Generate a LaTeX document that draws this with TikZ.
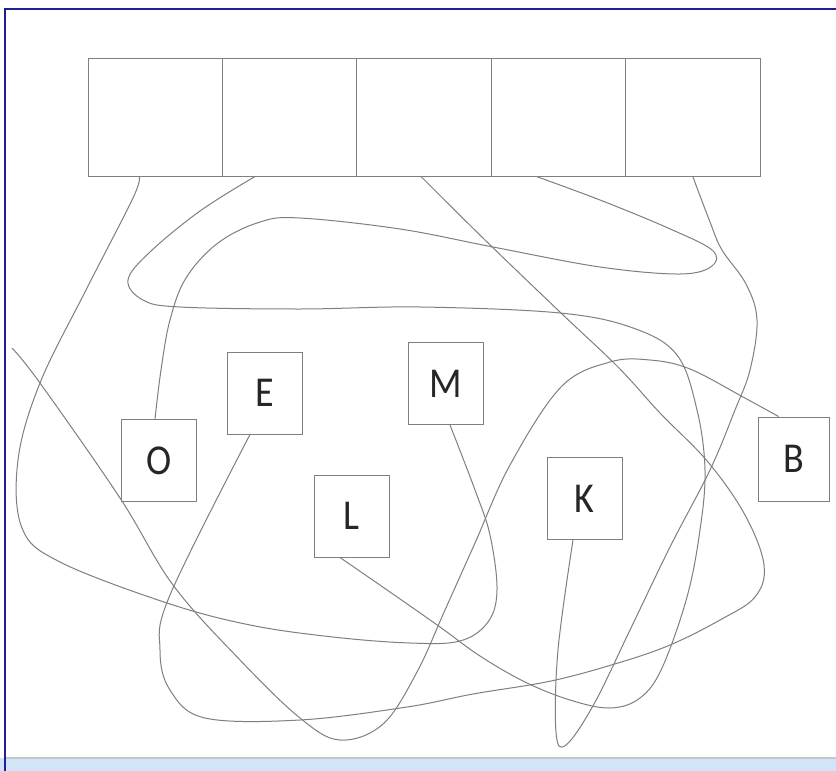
\documentclass[tikz,border=0pt]{standalone}
\usepackage{fontspec}
\setmainfont{Carlito}
\usepackage{graphicx}
\definecolor{ln}{HTML}{7F7F7F}
\definecolor{frameblue}{HTML}{1F1F99}
\definecolor{band}{HTML}{D2E4F7}
\tikzset{
  cell/.style={draw=ln, line width=1pt, minimum width=134.4pt, minimum height=118pt, inner sep=0pt},
  lbl/.style={draw=ln, line width=1pt, minimum width=75pt, minimum height=82pt, inner sep=0pt,
              text=black!85, font=\fontsize{38}{40}\selectfont},
  wire/.style={draw=ln, line width=1pt},
  tang/.style={smooth, tension=0.6}
}
\newcommand{\tall}[1]{\scalebox{1}[1.12]{#1}}
\begin{document}
\begin{tikzpicture}[x=1pt,y=-1pt]
\useasboundingbox (0,0) rectangle (836,771);
\fill[white] (0,0) rectangle (836,771);
% frame
\fill[band] (0,758) rectangle (836,771);
\draw[black!22, line width=1.5pt] (6,758) -- (836,758);
\draw[frameblue, line width=2.5pt] (5,771) -- (5,9) -- (836,9);

% top cells
\node[cell] (c1) at (155.2,117) {};
\node[cell] (c2) at (289.6,117) {};
\node[cell] (c3) at (424,117) {};
\node[cell] (c4) at (558.4,117) {};
\node[cell] (c5) at (692.8,117) {};

% labelled boxes
\node[lbl] (O) at (159,460.5) {\tall{O}};
\node[lbl] (E) at (265,393) {\tall{E}};
\node[lbl] (L) at (351.5,516) {\tall{L}};
\node[lbl] (M) at (445.5,383.5) {\tall{M}};
\node[lbl] (K) at (584.5,498.5) {\tall{K}};
\node[lbl, minimum width=71pt, minimum height=84pt] (B) at (793.5,459) {\tall{B}};

% connector end points
\coordinate (a0) at ([xshift=-16pt]c1.south);
\coordinate (a1) at ([xshift=4.5pt]M.south);
\coordinate (b0) at (12,348);
\coordinate (b1) at ([xshift=-15pt]B.north);
\coordinate (cc0) at ([xshift=-34.6pt]c2.south);
\coordinate (cc1) at ([xshift=-11.5pt]L.south);
\coordinate (d0) at ([xshift=-3pt]c3.south);
\coordinate (d1) at ([xshift=-15pt]E.south);
\coordinate (e0) at ([xshift=-22pt]c4.south);
\coordinate (e1) at ([xshift=-4pt]O.north);
\coordinate (f0) at (c5.south);
\coordinate (f1) at ([xshift=-11.5pt]K.south);

% cell 1 -> M
\draw[wire] plot[tang] coordinates {(a0) (133,198) (86,290) (40,383) (18,460) (22,528) (60,562) (167,603) (250,625) (333,637) (410,643) (460,641) (488,622) (497,590) (490,535) (475,490) (a1)};
% free end -> B
\draw[wire] plot[tang] coordinates {(b0) (40,383) (120,498) (173,585) (240,660) (300,718) (340,740) (383,724) (417,672) (445,610) (475,543) (510,465) (561,387) (610,362) (650,360) (690,369) (743,397) (b1)};
% cell 2 -> L
\draw[wire] plot[tang] coordinates {(cc0) (200,211) (150,252) (128,280) (143,300) (180,307) (300,309) (420,307) (560,313) (633,328) (677,355) (697,410) (705,470) (700,530) (687,597) (662,668) (640,698) (610,708) (570,700) (525,682) (480,656) (440,627) (390,592) (cc1)};
% cell 3 -> E
\draw[wire] plot[tang] coordinates {(d0) (485,240) (561,313) (618,367) (660,413) (708,462) (745,515) (764,565) (755,597) (720,620) (670,645) (618,663) (551,681) (473,694) (407,707) (300,720) (205,718) (170,690) (160,650) (170,595) (d1)};
% cell 4 -> O
\draw[wire] plot[tang] coordinates {(e0) (600,200) (668,228) (712,250) (712,266) (680,274) (600,267) (493,247) (400,229) (300,218) (260,222) (218,243) (186,278) (170,320) (161,370) (e1)};
% cell 5 -> K
\draw[wire] plot[tang] coordinates {(f0) (710,222) (722,250) (746,284) (757,320) (750,370) (735,410) (710,470) (670,547) (630,630) (594,704) (566,745) (556,732) (558,650) (f1)};
\end{tikzpicture}
\end{document}
